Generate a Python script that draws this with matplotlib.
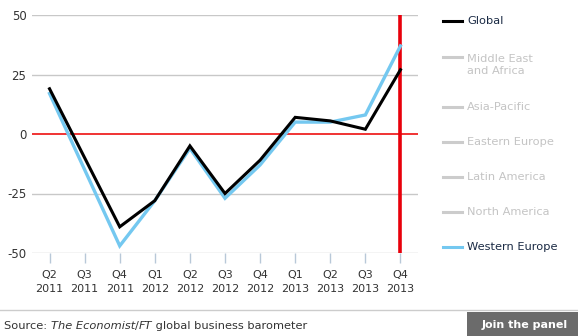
import matplotlib
matplotlib.use("Agg")
import matplotlib.pyplot as plt
from matplotlib.patches import Rectangle
from matplotlib.lines import Line2D

# data
quarters = ["Q2\n2011", "Q3\n2011", "Q4\n2011", "Q1\n2012", "Q2\n2012", "Q3\n2012",
            "Q4\n2012", "Q1\n2013", "Q2\n2013", "Q3\n2013", "Q4\n2013"]
global_vals = [19, -10, -39, -28, -5, -25, -11, 7, 5.5, 2, 27]
western_europe = [17, -15, -47, -28, -6, -27, -13, 5, 5, 8, 37]
yticks = [-50, -25, 0, 25, 50]
legend_labels = ["Global", "Middle East\nand Africa", "Asia-Pacific", "Eastern Europe",
                 "Latin America", "North America", "Western Europe"]

W, H = 578, 336
fig = plt.figure(figsize=(W / 100, H / 100), dpi=100)
fig.patch.set_facecolor("white")

def px(x, y):
    return x / W, 1 - y / H

ax = fig.add_axes([32 / W, (H - 253) / H, (418 - 32) / W, (253 - 15) / H])
x = list(range(len(quarters)))

for y in yticks:
    if y == 0:
        continue
    ax.axhline(y, color="#c8c8c8", lw=1, zorder=1)
ax.axhline(0, color="#ee1111", lw=1.2, zorder=2)
ax.axvline(10, color="#e8000b", lw=2.6, zorder=2)

ax.plot(x, western_europe, color="#74c8f0", lw=2.4, zorder=3, solid_joinstyle="miter")
ax.plot(x, global_vals, color="black", lw=2.2, zorder=4, solid_joinstyle="miter")

ax.set_xlim(-0.5, 10.5)
ax.set_ylim(-50, 50)
ax.set_yticks(yticks)
ax.set_yticklabels([str(v) for v in yticks], fontsize=8.5, color="#333333")
ax.set_xticks(x)
ax.set_xticklabels(quarters, fontsize=8, color="#333333", linespacing=1.5)
ax.tick_params(axis="y", length=0, pad=4)
ax.tick_params(axis="x", length=7, width=1, color="#b8c8d8", pad=5)
for s in ax.spines.values():
    s.set_visible(False)

# legend
leg_y = [21, 65, 107, 142, 177, 212, 247]
for lab, yy in zip(legend_labels, leg_y):
    if lab == "Global":
        c, tc = "black", "#1a2a44"
    elif lab == "Western Europe":
        c, tc = "#74c8f0", "#1a2a44"
    else:
        c, tc = "#cccccc", "#c4c4c4"
    ly = yy if "\n" not in lab else 57
    x0, y0 = px(443, ly)
    x1, _ = px(462, ly)
    fig.add_artist(Line2D([x0, x1], [y0, y0], color=c, lw=2.2))
    tx, ty = px(467, yy)
    fig.text(tx, ty, lab, fontsize=8.2, color=tc, va="center", ha="left",
             linespacing=1.3)

# footer
fig.add_artist(Line2D([0, 1], [px(0, 310)[1]] * 2, color="#cccccc", lw=1))
sx, sy = px(4, 326)
parts = [("Source: ", "normal"), ("The Economist", "italic"), ("/", "normal"),
         ("FT", "italic"), (" global business barometer", "normal")]
renderer = fig.canvas.get_renderer()
cur = sx
for txt, st in parts:
    t = fig.text(cur, sy, txt, fontsize=8.2, style=st, color="#333333", va="center", ha="left")
    bb = t.get_window_extent(renderer)
    cur += bb.width / W

bx0, by0 = px(467, 336)
fig.add_artist(Rectangle((bx0, by0), (578 - 467) / W, 24 / H, transform=fig.transFigure,
                         color="#6b6b6b", lw=0))
bt = px(525, 325)
fig.text(bt[0], bt[1], "Join the panel", fontsize=8, weight="bold", color="white",
         ha="center", va="center")

fig.savefig("out.png", dpi=100)
